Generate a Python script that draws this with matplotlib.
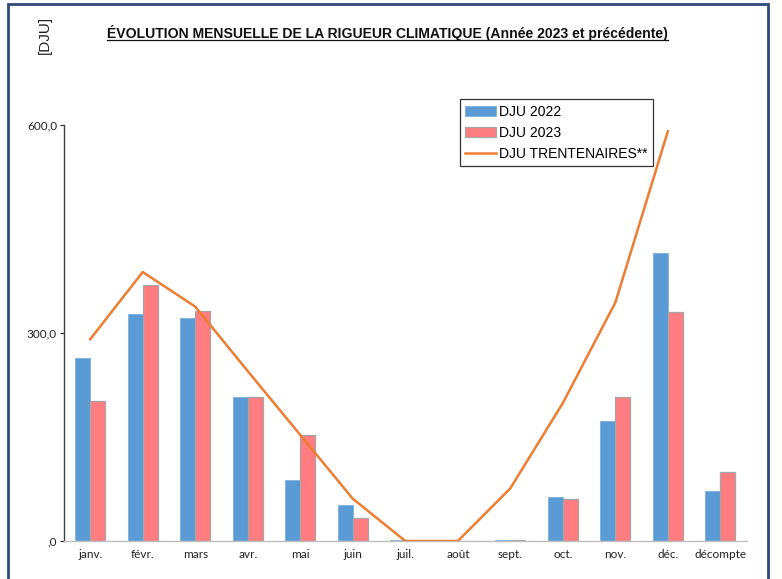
import numpy as np
import matplotlib.pyplot as plt
from matplotlib.patches import Rectangle
from matplotlib.lines import Line2D

# données
mois = ['janv.', 'févr.', 'mars', 'avr.', 'mai', 'juin', 'juil.', 'août',
        'sept.', 'oct.', 'nov.', 'déc.', 'décompte']
dju_2022 = [264, 327, 322, 208, 88, 52, 1, 0, 1, 63, 173, 415, 72]
dju_2023 = [202, 369, 332, 208, 153, 33, 0, 0, 1, 61, 208, 331, 100]
dju_trente = [291, 388, 338, 245, 153, 61, 0, 0, 76, 199, 344, 591]

bleu = '#5B9BD5'
rouge = '#FF7C80'
orange = '#ED7D31'

plt.rcParams['font.family'] = ['Lato', 'DejaVu Sans']

fig = plt.figure(figsize=(7.82, 5.79), dpi=100)
ax = fig.add_axes([0.0818, 0.0656, 0.873, 0.7185])

x = np.arange(len(mois))
w = 0.286
b1 = ax.bar(x - w / 2, dju_2022, w, color=bleu, edgecolor='#7FAEDC', linewidth=0.6,
            label='DJU 2022', zorder=2)
b2 = ax.bar(x + w / 2, dju_2023, w, color=rouge, edgecolor='#A6A6A6', linewidth=0.9,
            label='DJU 2023', zorder=2)
l1, = ax.plot(x[:len(dju_trente)], dju_trente, color=orange, linewidth=1.8,
              label='DJU TRENTENAIRES**', zorder=3)

ax.set_xlim(-0.5, len(mois) - 0.5)
ax.set_ylim(0, 600)
ax.set_yticks([0, 300, 600])
ax.set_yticklabels([',0', '300,0', '600,0'])
ax.set_xticks(x)
ax.set_xticklabels(mois)
ax.tick_params(axis='x', length=0, labelsize=8.5, pad=6, colors='#222222')
ax.tick_params(axis='y', length=3, width=0.8, labelsize=8.5, pad=2,
               colors='#222222', direction='out')

for s in ['top', 'right']:
    ax.spines[s].set_visible(False)
ax.spines['left'].set_color('#404040')
ax.spines['left'].set_linewidth(1.0)
ax.spines['bottom'].set_color('#BFBFBF')
ax.spines['bottom'].set_linewidth(1.0)

leg = ax.legend([b1, b2, l1], ['DJU 2022', 'DJU 2023', 'DJU TRENTENAIRES**'],
                loc='upper left', bbox_to_anchor=(0.5795, 1.062),
                prop={'family': 'Liberation Sans', 'size': 10},
                frameon=True, fancybox=False, handlelength=2.2, handleheight=0.8,
                borderpad=0.4, labelspacing=0.5, handletextpad=0.25,
                borderaxespad=0)
leg.get_frame().set_edgecolor('#000000')
leg.get_frame().set_linewidth(0.9)

# titre souligné
titre = fig.text(0.495, 0.935, 'ÉVOLUTION MENSUELLE DE LA RIGUEUR CLIMATIQUE (Année 2023 et précédente)',
                 ha='center', va='baseline', fontsize=10.1, fontweight='bold',
                 family='Liberation Sans', color='#111111')
fig.canvas.draw()
bb = titre.get_window_extent().transformed(fig.transFigure.inverted())
yl = bb.y0 + 0.001
fig.add_artist(Line2D([bb.x0, bb.x1], [yl, yl], color='#111111', linewidth=0.9,
                      transform=fig.transFigure))

fig.text(0.058, 0.94, '[DJU]', rotation=90, ha='center', va='center',
         fontsize=11, family='Liberation Sans', color='#222222')

# cadre
fig.add_artist(Rectangle((8 / 782, -0.05), 760 / 782, 1.043, fill=False,
                         edgecolor='#2E4A7D', linewidth=2.0,
                         transform=fig.transFigure))

fig.savefig('out.png', dpi=100)
